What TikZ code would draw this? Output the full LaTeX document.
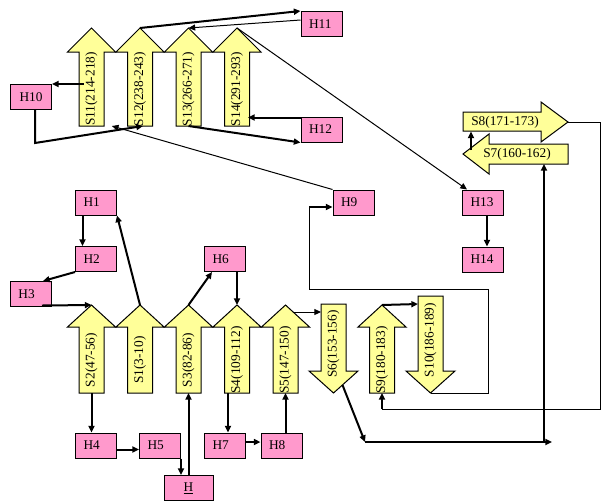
\documentclass[tikz,border=0pt]{standalone}
\usepackage{fontspec}
\setmainfont{Liberation Serif}
\usetikzlibrary{calc, arrows.meta}
\definecolor{sheetcolor}{HTML}{FFFF99}
\definecolor{helixcolor}{HTML}{FF99CC}

\begin{document}
\begin{tikzpicture}[
    x=0.75pt, y=-0.75pt,
    sheet/.style={fill=sheetcolor, draw=black, line width=0.75pt},
    sheetlabel/.style={font=\fontsize{10}{12}\selectfont, inner sep=0pt},
    helix/.style={draw=black, fill=helixcolor, line width=0.75pt, font=\fontsize{10}{12}\selectfont,
        minimum height=18.75pt, text width=18.75pt, inner xsep=6pt, inner ysep=0pt, align=left},
    link/.style={line width=1.5pt, -{Triangle[length=5pt,width=4.5pt]}},
    thinlink/.style={line width=0.75pt, -{Triangle[length=5pt,width=4.5pt]}}
]

    % Canvas
    \fill[white] (0,0) rectangle (613,501);
    \useasboundingbox (0,0) rectangle (613,501);

    % --- Upper sheets ---
    \foreach \nm/\cx/\lab in {S11/91.5/S11(214-218), S12/140/S12(238-243), S13/188.5/S13(266-271), S14/237/S14(291-293)} {
        \filldraw[sheet] (\cx,28) -- (\cx+24,52) -- (\cx+12.5,52) -- (\cx+12.5,126) -- (\cx-12.5,126) -- (\cx-12.5,52) -- (\cx-24,52) -- cycle;
        \coordinate (\nm\space tip) at (\cx,28);
        \coordinate (\nm\space tail) at (\cx,126);
        \node[sheetlabel, rotate=90] (\nm) at (\cx,89) {\lab};
    }

    % --- Lower sheets (pointing up) ---
    \foreach \nm/\cx/\lab in {S2/91.5/S2(47-56), S1/140/S1(3-10), S3/188.5/S3(82-86), S4/237/S4(109-112), S5/285.5/S5(147-150), S9/382/S9(180-183)} {
        \filldraw[sheet] (\cx,305) -- (\cx+24,327) -- (\cx+12.5,327) -- (\cx+12.5,393) -- (\cx-12.5,393) -- (\cx-12.5,327) -- (\cx-24,327) -- cycle;
        \coordinate (\nm\space tip) at (\cx,305);
        \coordinate (\nm\space tail) at (\cx,393);
        \node[sheetlabel, rotate=90] (\nm) at (\cx,360) {\lab};
    }

    % --- Lower sheets (pointing down) ---
    \foreach \nm/\cx/\ytop/\ly/\lab in {S6/333.5/304/344/S6(153-156), S10/430.5/296/340/S10(186-189)} {
        \filldraw[sheet] (\cx-12.5,\ytop) -- (\cx+12.5,\ytop) -- (\cx+12.5,371) -- (\cx+24.5,371) -- (\cx,393) -- (\cx-24.5,371) -- (\cx-12.5,371) -- cycle;
        \coordinate (\nm\space top) at (\cx,\ytop);
        \coordinate (\nm\space tip) at (\cx,393);
        \node[sheetlabel, rotate=90] (\nm) at (\cx,\ly) {\lab};
    }

    % --- S8 (right) and S7 (left) ---
    \filldraw[sheet] (463,112) -- (541,112) -- (541,102) -- (568,122) -- (541,142) -- (541,131) -- (463,131) -- cycle;
    \coordinate (S8 tip) at (568,122);
    \coordinate (S8 tail) at (463,122);
    \node[sheetlabel] (S8) at (505,122) {S8(171-173)};
    \filldraw[sheet] (463,154) -- (489,134) -- (489,144) -- (568,144) -- (568,164) -- (489,164) -- (489,174) -- cycle;
    \coordinate (S7 tip) at (463,154);
    \coordinate (S7 tail) at (568,154);
    \node[sheetlabel] (S7) at (517,154) {S7(160-162)};

    % --- Helices ---
    \node[helix] (H1) at (96,202.5) {H1};
    \node[helix] (H2) at (96,259) {H2};
    \node[helix] (H3) at (31,294) {H3};
    \node[helix] (H4) at (96,445.5) {H4};
    \node[helix] (H5) at (160,445.5) {H5};
    \node[helix, text width=24.75pt, align=center] (H) at (188.5,488) {\underline{H}};
    \node[helix] (H6) at (225,259) {H6};
    \node[helix] (H7) at (225,445.5) {H7};
    \node[helix] (H8) at (281.5,445.5) {H8};
    \node[helix] (H9) at (353.5,202.5) {H9};
    \node[helix, align=center] (H10) at (31,97) {H10};
    \node[helix] (H11) at (321.5,24) {H11};
    \node[helix] (H12) at (321.5,129.5) {H12};
    \node[helix] (H13) at (483,202.5) {H13};
    \node[helix] (H14) at (483,259.5) {H14};

    % --- Lower connections ---
    \draw[link] ($(H1.south west)+(7.5,0)$) -- ($(H2.north west)+(7.5,0)$);
    \draw[link] (H2.south west) -- ($(H3.north east)+(-9,0)$);
    \draw[link] ($(H3.south east)+(-10,-1.5)$) -- (S2 tip);
    \draw[link] (S1 tip) -- (H1.south east);
    \draw[link] (S3 tip) -- ($(H6.south west)+(8,0)$);
    \draw[link] (H6.south -| S4 tip) -- (S4 tip);
    \draw[thinlink] ($(S5 tip)+(7,7)$) -- ($(S6 top)+(-12.5,8)$);
    \draw[link] (S2 tail) -- (H4.north -| S2 tail);
    \draw[link] ([yshift=-3pt]H4.east) -- ([yshift=-3pt]H5.west);
    \draw[link] (H5.south east) -- (H5.south east |- H.north);
    \draw[link] (H.north) -- (S3 tail);
    \draw[link] ($(S4 tail)+(-9,0)$) -- ($(S4 tail |- H7.north)+(-9,0)$);
    \draw[link] ([yshift=2.6pt]H7.east) -- ([yshift=2.6pt]H8.west);
    \draw[link] (S5 tail |- H8.north) -- (S5 tail);
    \draw[link] (S9 tip) -- ($(S10 top)+(-12.5,8)$);

    % S6 down and round to S7
    \coordinate (bend) at (365,442);
    \coordinate (run end) at (552,442);
    \coordinate (S7 foot) at ($(S7 tail)+(-24,10)$);
    \draw[link] ($(S6 tip)+(9,-8)$) -- (bend);
    \draw[link] (bend) -- (run end);
    \draw[link] (bend -| S7 foot) -- (S7 foot);

    % S10 back up to H9
    \coordinate (h9 in) at (309,207);
    \draw[line width=0.75pt] (S10 tip) -| (488,289) -| (h9 in);
    \draw[link] (h9 in) -- (h9 in -| H9.west);

    % S8 round to S9
    \coordinate (s9 in) at (382,409);
    \draw[line width=0.75pt] (S8 tip) -| (600,409) -- (s9 in);
    \draw[link] (s9 in) -- (S9 tail);
    \draw[link] ($(S7 tip)+(8,-4)$) -- ($(S8 tail)+(8,9.5)$);
    \draw[link] ([xshift=3pt]H13.south) -- ([xshift=3pt]H14.north);

    % --- Upper connections ---
    \draw[thinlink] (S14 tip) -- ($(H13.north west)+(5,0)$);
    \draw[link] (S12 tip) -- (H11.north west);
    \draw[thinlink] ($(H11.west)+(0,-4)$) -- (S13 tip);
    \draw[link] ($(S11 tail |- H10.north east)+(-8,0)$) -- (H10.north east);
    \draw[link] ([xshift=3pt]H10.south) -- ++(0,33) -- ($(S12 tail)+(3,0)$);
    \draw[thinlink] (H9.north west) -- ($(S11 tail)!0.42!(S12 tail)$);
    \draw[link] (S13 tail) -- (H12.south west);
    \coordinate (h12 in) at ($(H12.north west)+(0,1)$);
    \draw[link] (h12 in) -- ($(h12 in -| S14 tail)+(11,0)$);

\end{tikzpicture}
\end{document}
